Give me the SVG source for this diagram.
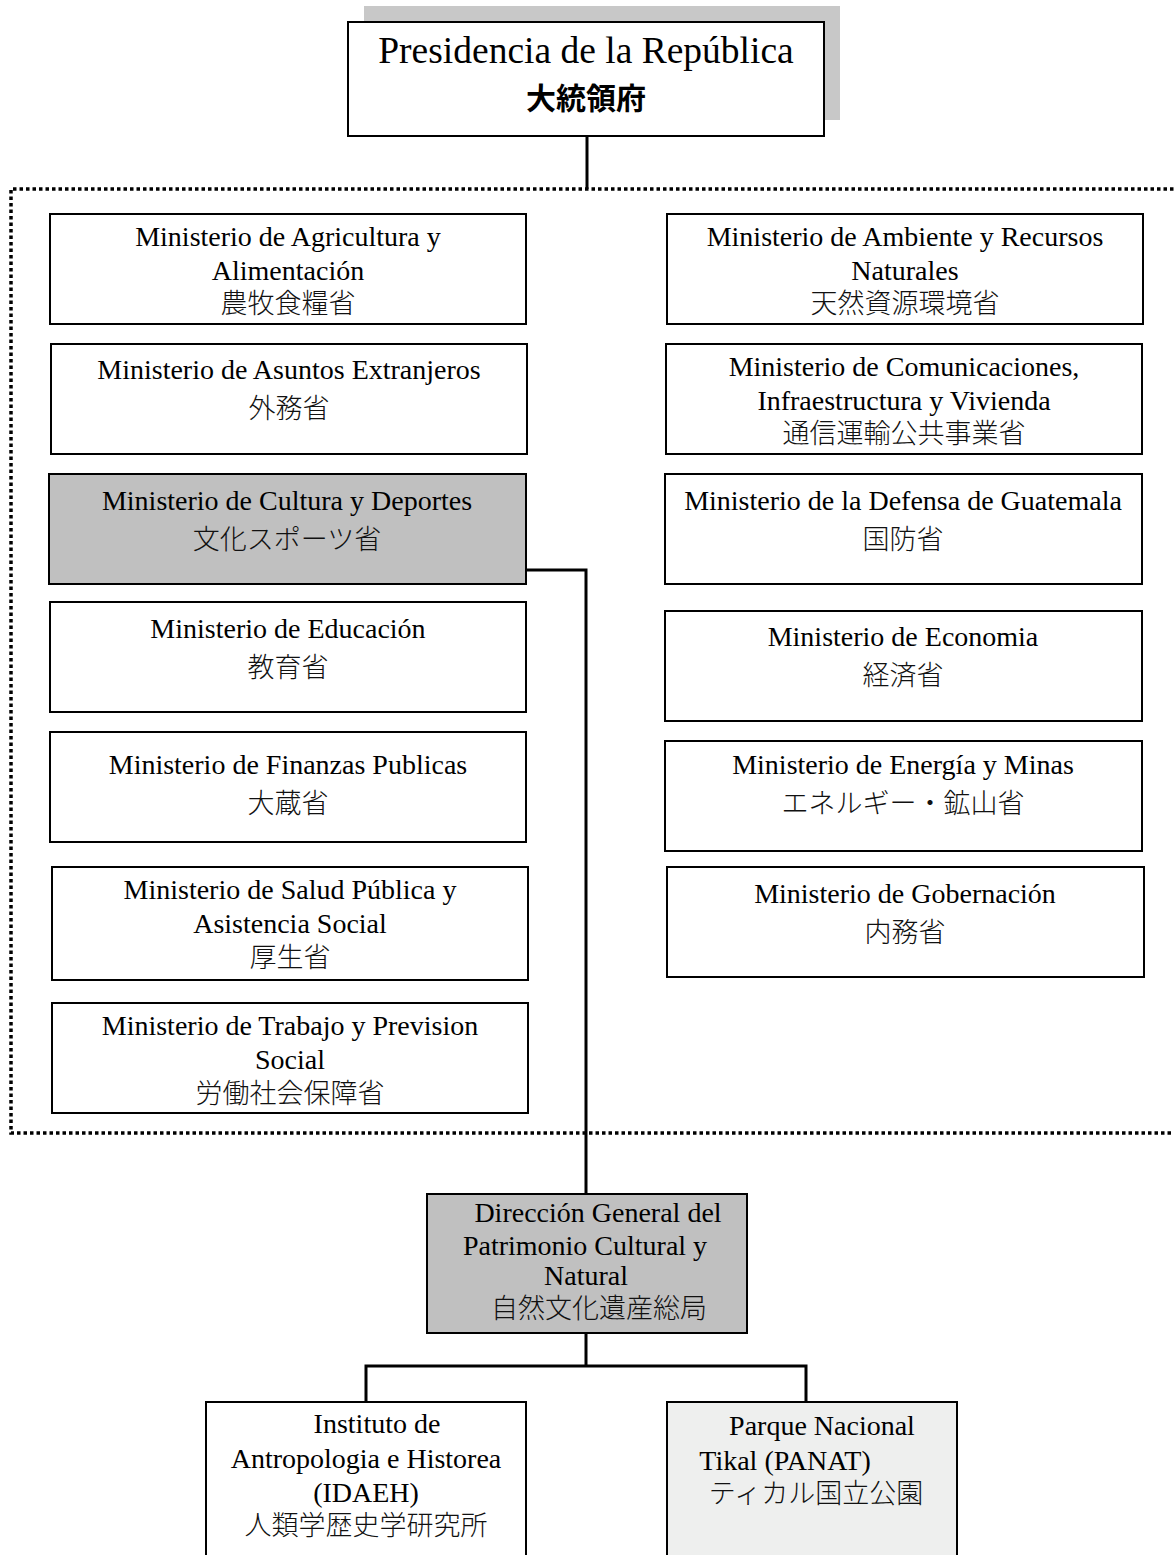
<svg xmlns="http://www.w3.org/2000/svg" width="1174" height="1555" viewBox="0 0 1174 1555">
<style>
.box{fill:#ffffff;stroke:#000;stroke-width:2}
.grey{fill:#c0c0c0;stroke:#000;stroke-width:2}
.light{fill:#eeefee;stroke:#000;stroke-width:2}
.lt{font-family:"Liberation Serif","Times New Roman",serif;font-size:28px;fill:#000;text-anchor:middle}
.jp{font-family:"Noto Sans CJK JP","Noto Sans CJK SC",sans-serif;font-size:27px;font-weight:300;fill:#111;text-anchor:middle}
.conn{fill:none;stroke:#000;stroke-width:3}
.dot{fill:none;stroke:#000;stroke-width:3.5;stroke-dasharray:3.5 3}
</style>
<rect width="1174" height="1555" fill="#fff"/>
<g id="connectors">
<path class="dot" d="M1180,189 H11 V1133 H1180"/>
<path class="conn" d="M587,136 V189"/>
<path class="conn" d="M526,570 H586 V1194"/>
<path class="conn" d="M586,1333 V1366 M366,1402 V1366 H806 V1402"/>
</g>
<g id="presidencia">
<rect x="364" y="6" width="476" height="114" fill="#c8c8c8"/>
<rect class="box" x="348" y="22" width="476" height="114"/>
<text class="lt" x="586" y="63" style="font-size:37.5px">Presidencia de la República</text>
<text class="jp" x="586" y="109" style="font-size:30px;font-weight:bold;fill:#000">大統領府</text>
</g>
<g id="agricultura">
<rect class="box" x="50" y="214" width="476" height="110"/>
<text class="lt" x="288" y="246">Ministerio de Agricultura y</text>
<text class="lt" x="288" y="280">Alimentación</text>
<text class="jp" x="288" y="313">農牧食糧省</text>
</g>
<g id="exteriores">
<rect class="box" x="51" y="344" width="476" height="110"/>
<text class="lt" x="289" y="379">Ministerio de Asuntos Extranjeros</text>
<text class="jp" x="289" y="418">外務省</text>
</g>
<g id="cultura">
<rect class="grey" x="49" y="474" width="477" height="110"/>
<text class="lt" x="287" y="510">Ministerio de Cultura y Deportes</text>
<text class="jp" x="287" y="549">文化スポーツ省</text>
</g>
<g id="educacion">
<rect class="box" x="50" y="602" width="476" height="110"/>
<text class="lt" x="288" y="638">Ministerio de Educación</text>
<text class="jp" x="288" y="677">教育省</text>
</g>
<g id="finanzas">
<rect class="box" x="50" y="732" width="476" height="110"/>
<text class="lt" x="288" y="774">Ministerio de Finanzas Publicas</text>
<text class="jp" x="288" y="813">大蔵省</text>
</g>
<g id="salud">
<rect class="box" x="52" y="867" width="476" height="113"/>
<text class="lt" x="290" y="899">Ministerio de Salud Pública y</text>
<text class="lt" x="290" y="933">Asistencia Social</text>
<text class="jp" x="290" y="967">厚生省</text>
</g>
<g id="trabajo">
<rect class="box" x="52" y="1003" width="476" height="110"/>
<text class="lt" x="290" y="1035">Ministerio de Trabajo y Prevision</text>
<text class="lt" x="290" y="1069">Social</text>
<text class="jp" x="290" y="1103">労働社会保障省</text>
</g>
<g id="ambiente">
<rect class="box" x="667" y="214" width="476" height="110"/>
<text class="lt" x="905" y="246">Ministerio de Ambiente y Recursos</text>
<text class="lt" x="905" y="280">Naturales</text>
<text class="jp" x="905" y="313">天然資源環境省</text>
</g>
<g id="comunicaciones">
<rect class="box" x="666" y="344" width="476" height="110"/>
<text class="lt" x="904" y="376">Ministerio de Comunicaciones,</text>
<text class="lt" x="904" y="410">Infraestructura y Vivienda</text>
<text class="jp" x="904" y="443">通信運輸公共事業省</text>
</g>
<g id="defensa">
<rect class="box" x="665" y="474" width="477" height="110"/>
<text class="lt" x="903" y="510">Ministerio de la Defensa de Guatemala</text>
<text class="jp" x="903" y="549">国防省</text>
</g>
<g id="economia">
<rect class="box" x="665" y="611" width="477" height="110"/>
<text class="lt" x="903" y="646">Ministerio de Economia</text>
<text class="jp" x="903" y="685">経済省</text>
</g>
<g id="energia">
<rect class="box" x="665" y="741" width="477" height="110"/>
<text class="lt" x="903" y="774">Ministerio de Energía y Minas</text>
<text class="jp" x="903" y="813">エネルギー・鉱山省</text>
</g>
<g id="gobernacion">
<rect class="box" x="667" y="867" width="477" height="110"/>
<text class="lt" x="905" y="903">Ministerio de Gobernación</text>
<text class="jp" x="905" y="942">内務省</text>
</g>
<g id="direccion">
<rect class="grey" x="427" y="1194" width="320" height="139"/>
<text class="lt" x="598" y="1222">Dirección General del</text>
<text class="lt" x="585" y="1255">Patrimonio Cultural y</text>
<text class="lt" x="586" y="1285">Natural</text>
<text class="jp" x="599" y="1318">自然文化遺産総局</text>
</g>
<g id="idaeh">
<rect class="box" x="206" y="1402" width="320" height="160"/>
<text class="lt" x="377" y="1433">Instituto de</text>
<text class="lt" x="366" y="1468">Antropologia e Historea</text>
<text class="lt" x="366" y="1502">(IDAEH)</text>
<text class="jp" x="366" y="1535">人類学歴史学研究所</text>
</g>
<g id="panat">
<rect class="light" x="667" y="1402" width="290" height="160"/>
<text class="lt" x="822" y="1435">Parque Nacional</text>
<text class="lt" x="785" y="1470">Tikal (PANAT)</text>
<text class="jp" x="816" y="1503">ティカル国立公園</text>
</g>
</svg>
